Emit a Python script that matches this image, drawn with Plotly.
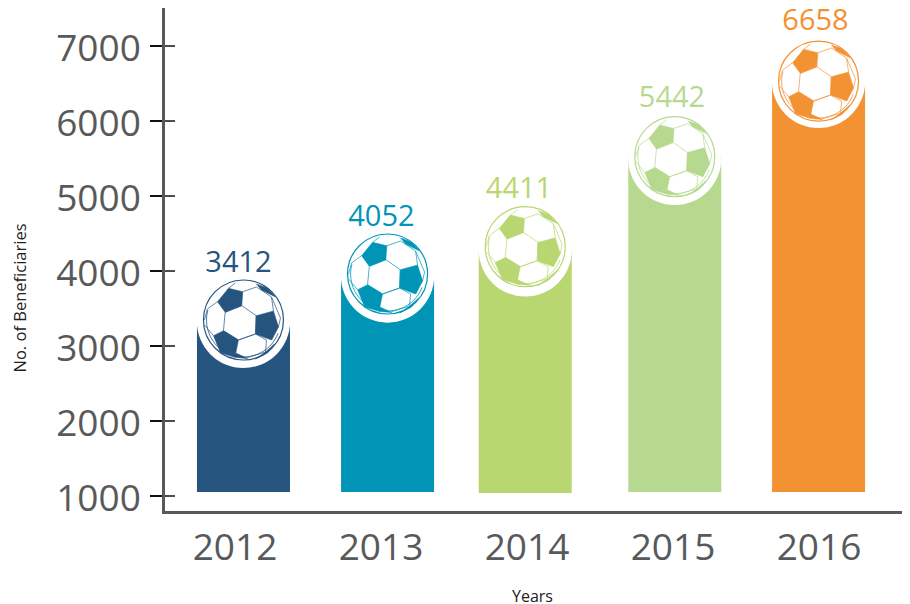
import math
import plotly.graph_objects as go

years = [2012, 2013, 2014, 2015, 2016]
labels = [3412, 4052, 4411, 5442, 6658]
bar_tops = [3267, 3880, 4280, 5547, 6507]
bar_bottoms = [1053, 1053, 1040, 1053, 1053]
arc_levels = [3327, 3933, 4280, 5500, 6527]
ball_levels = [3347, 3960, 4324, 5524, 6533]
bar_nudge = [0.058, 0.045, -0.012, 0.012, -0.003]
label_nudge = [0.024, 0.003, -0.055, -0.007, -0.024]
label_levels = [4080, 4693, 5067, 6280, 7307]
colors = ["#25557f", "#0095b6", "#b9d770", "#b6d98f", "#f39233"]
yticks = [1000, 2000, 3000, 4000, 5000, 6000, 7000]
ink = "#58595b"

# Ball artwork in pixels relative to the ball's centre (y up)
patches = [
    [(-15, 31.7), (-0.7, 28.3), (-1.7, 14.3), (-18.3, 7.7), (-26, 18.3)],
    [(12.7, 4.3), (30, 9), (35, -6.7), (28, -20), (12, -14)],
    [(-20, -10.7), (-5, -20), (-7.7, -33.3), (-23, -32.7), (-30, -15.7)],
    [(13, 36), (24, 32), (32, 23), (18, 30)],
    [(-23, -32.7), (-7.7, -33.3), (4, -38.5), (-8, -37.5)],
    [(22, -32), (31, -24), (24, -33), (12, -39)],
]
seams = [
    [(-1.7, 14.3), (12.7, 4.3), (12, -14), (-5, -20), (-20, -10.7), (-18.3, 7.7), (-1.7, 14.3)],
    [(-0.7, 28.3), (13, 33), (28, 23), (30, 9)],
    [(-15, 31.7), (-8, 37)],
    [(-26, 18.3), (-36, 11), (-39, 0)],
    [(-30, -15.7), (-39, -5)],
    [(-5, -20), (12, -14), (23, -20), (22, -32), (3, -38), (-7.7, -33.3)],
    [(28, -20), (35, -6.7), (37, 2), (28, 23)],
]
inner_arc = [(37 * math.cos(math.radians(a)), 37 * math.sin(math.radians(a)))
             for a in range(165, 345, 6)]


def path(points, closed=False):
    d = "M" + " L".join(f"{x:.1f},{y:.1f}" for x, y in points)
    return d + (" Z" if closed else "")


def anchored(px, py, **kw):
    return dict(xref="x", yref="y", xsizemode="pixel", ysizemode="pixel",
                xanchor=px, yanchor=py, **kw)


fig = go.Figure()
bar_x = [y + n for y, n in zip(years, bar_nudge)]
fig.add_trace(go.Bar(
    x=bar_x,
    y=[t - b for t, b in zip(bar_tops, bar_bottoms)],
    base=bar_bottoms,
    width=93 / 146,
    marker=dict(color=colors, line=dict(width=0)),
    hoverinfo="skip",
    showlegend=False,
))

shapes = []
for x, arc, level, c in zip(bar_x, arc_levels, ball_levels, colors):
    shapes.append(anchored(x, arc, type="circle", x0=-46.6, x1=46.6, y0=-46.6, y1=46.6,
                           fillcolor="white", line=dict(width=0)))
    shapes.append(anchored(x, level, type="circle", x0=-40, x1=40, y0=-40, y1=40,
                           fillcolor="white", line=dict(color=c, width=1.2)))
    shapes.append(anchored(x, level, type="path", path=path(inner_arc),
                           line=dict(color=c, width=0.8)))
    for p in patches:
        shapes.append(anchored(x, level, type="path", path=path(p, True),
                               fillcolor=c, line=dict(color=c, width=0.5)))
    for s in seams:
        shapes.append(anchored(x, level, type="path", path=path(s),
                               line=dict(color=c, width=0.7)))

for t in yticks:
    shapes.append(dict(type="line", xref="paper", yref="y", xsizemode="pixel", xanchor=0,
                       x0=0, x1=10, y0=t, y1=t, line=dict(color="#111111", width=1.5)))

fig.add_trace(go.Scatter(
    x=[y + n for y, n in zip(years, label_nudge)],
    y=label_levels,
    mode="text",
    text=[str(v) for v in labels],
    textposition="middle center",
    textfont=dict(family="Open Sans", size=29, color=colors),
    cliponaxis=False,
    hoverinfo="skip",
    showlegend=False,
))

fig.update_layout(
    width=910, height=604,
    margin=dict(l=157, r=10, t=0, b=101),
    paper_bgcolor="white", plot_bgcolor="white",
    shapes=shapes,
    showlegend=False,
    annotations=[
        dict(text="No. of Beneficiaries", xref="paper", yref="paper", x=-0.1965, y=0.4225,
             xanchor="center", yanchor="middle", textangle=-90, showarrow=False,
             font=dict(family="Open Sans", size=16.5, color="#222222")),
        dict(text="Years", xref="paper", yref="paper", x=0.494, y=-0.169,
             xanchor="center", yanchor="middle", showarrow=False,
             font=dict(family="Open Sans", size=16, color="#222222")),
    ],
    xaxis=dict(range=[2011.5205, 2016.6096], tickvals=years, ticktext=[str(y) for y in years],
               showgrid=False, zeroline=False, showline=True, linecolor=ink, linewidth=2.5,
               ticks="", ticklabelstandoff=2,
               tickfont=dict(family="Open Sans", size=37, color=ink)),
    yaxis=dict(range=[800, 7507], tickvals=yticks, showgrid=False, zeroline=False,
               showline=True, linecolor=ink, linewidth=2.5, ticks="outside", ticklen=12,
               tickwidth=1.5, tickcolor="#111111", ticklabelstandoff=2, tickformat="d",
               ticklabelshift=2,
               tickfont=dict(family="Open Sans", size=37, color=ink)),
)
fig.write_html("out.html", default_width="910px", default_height="604px")
